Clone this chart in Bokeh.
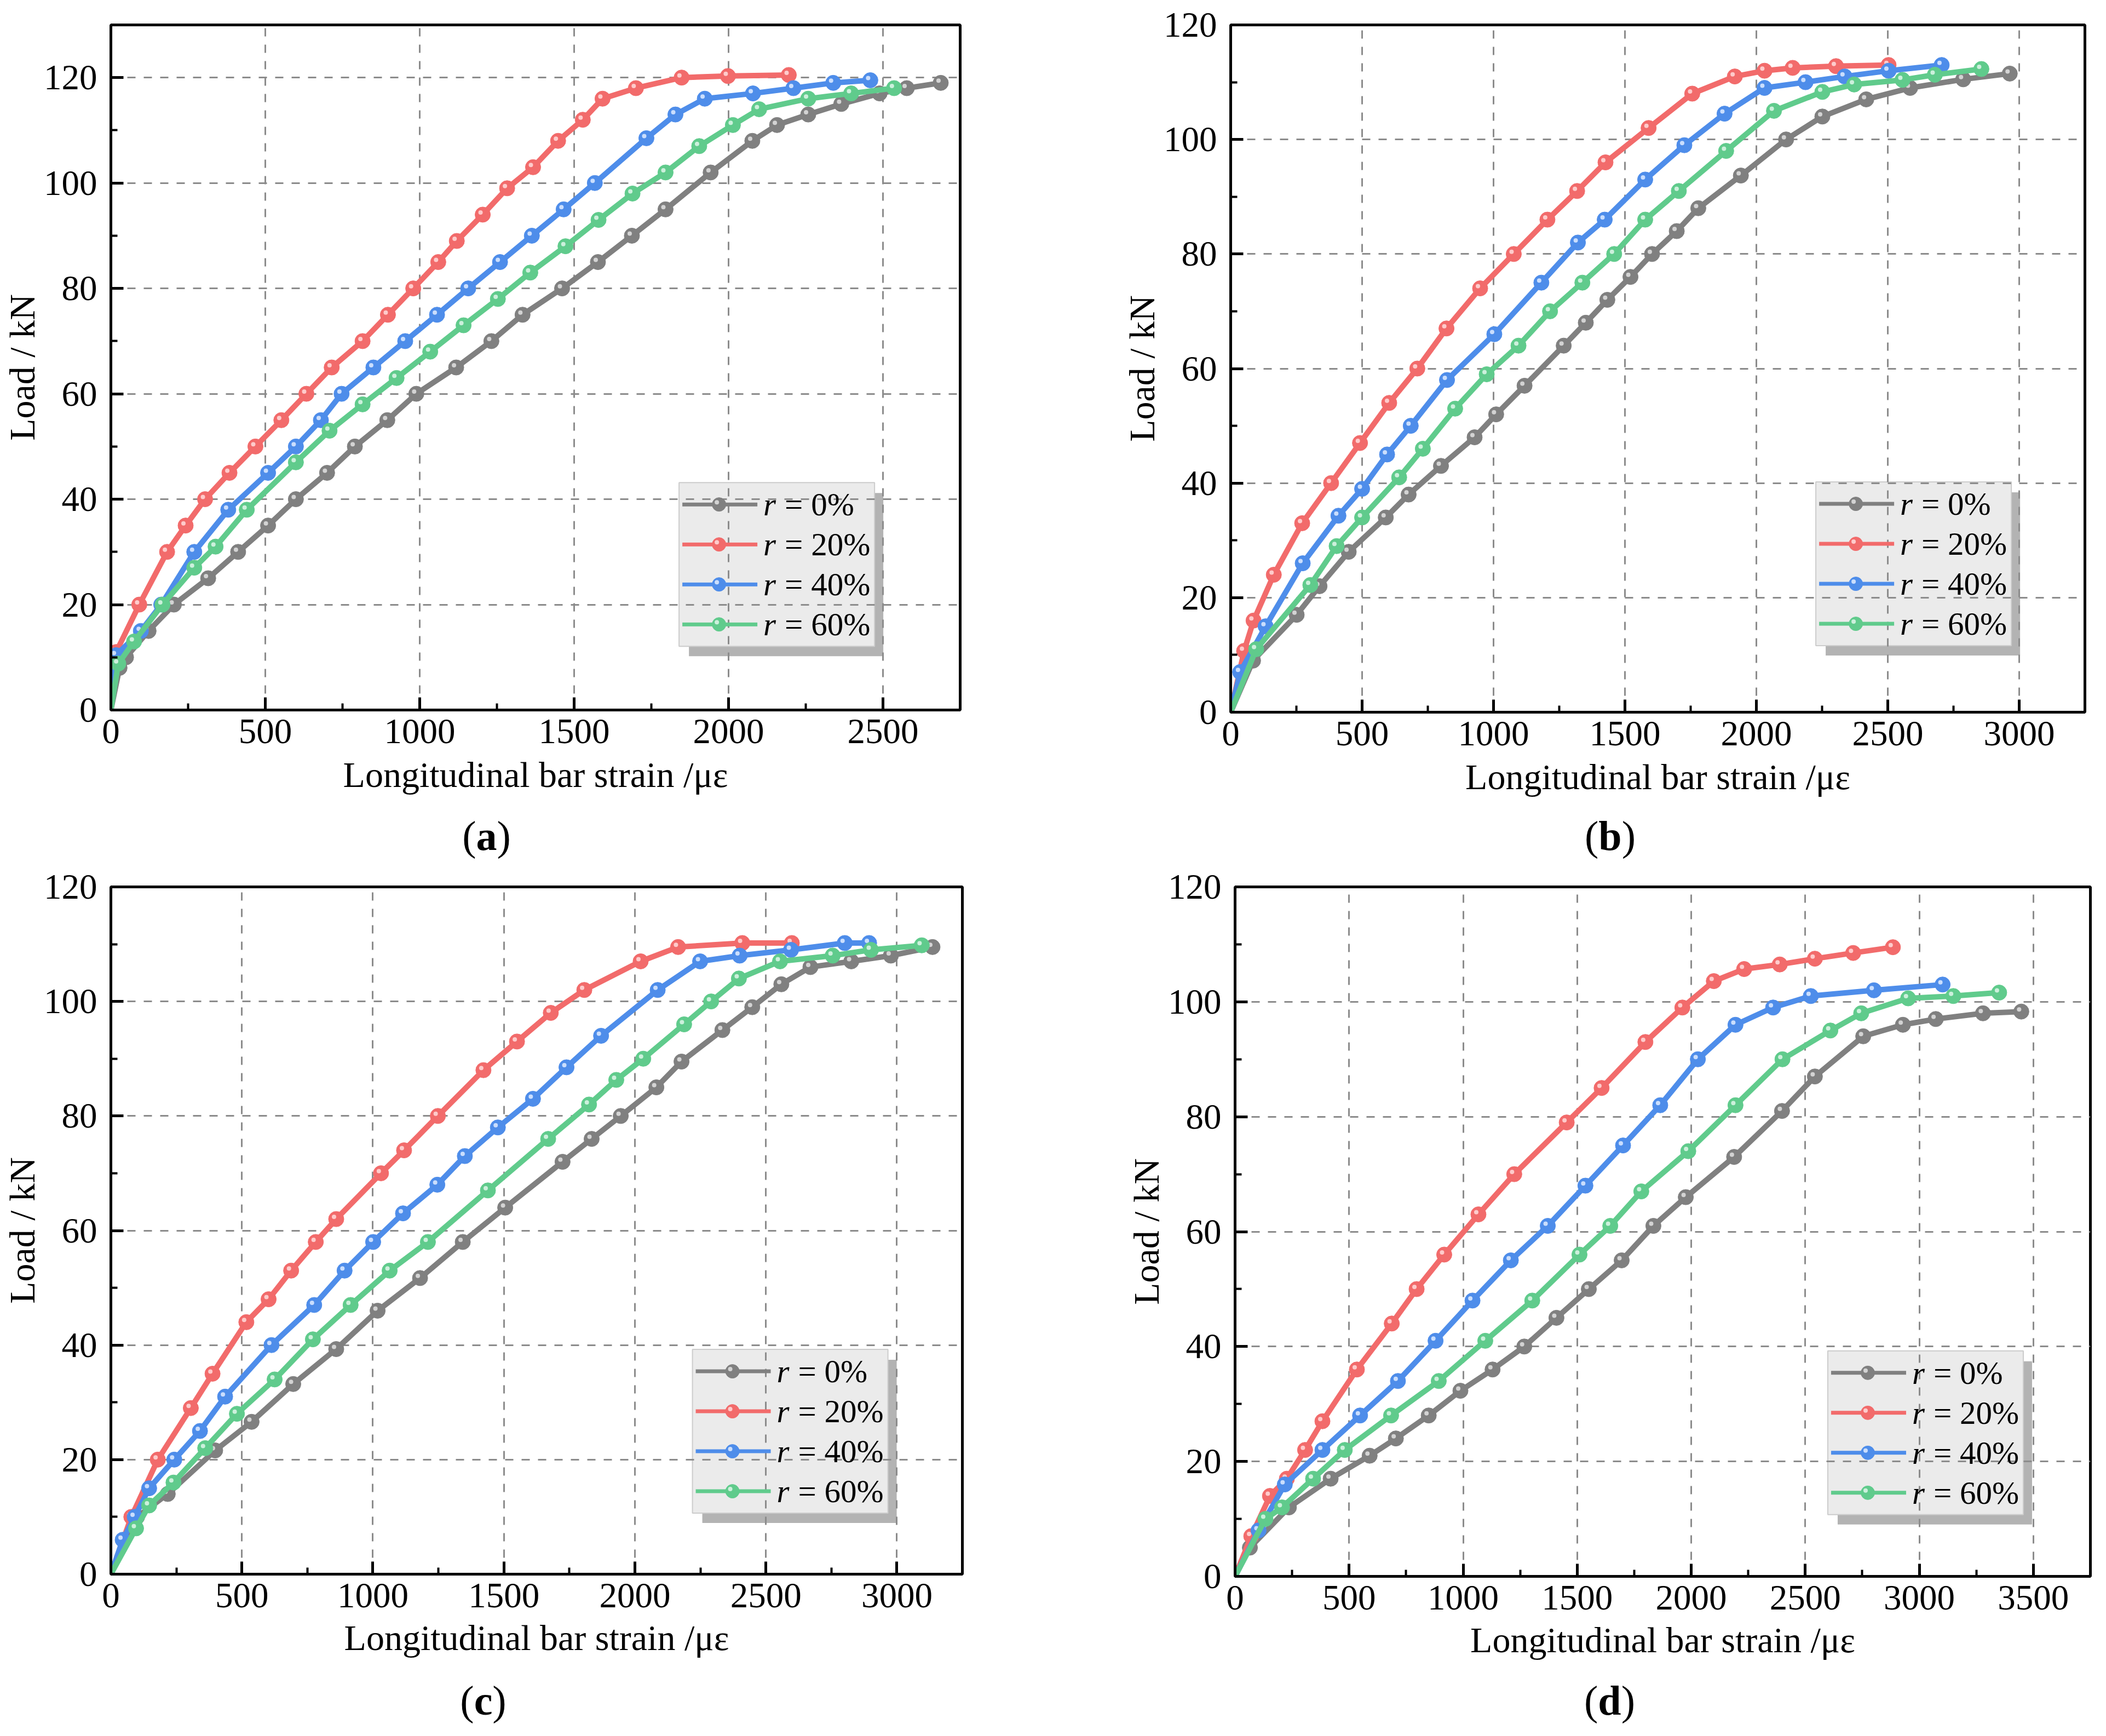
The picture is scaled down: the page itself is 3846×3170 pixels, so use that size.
from bokeh.plotting import figure
from bokeh.layouts import column, row
from bokeh.models import Range1d, SingleIntervalTicker, Label
from bokeh.embed import file_html
from bokeh.resources import INLINE
from bokeh.core.properties import value

# ---------------- data (strain in microstrain, load in kN) ----------------
SERIES = ["0%", "20%", "40%", "60%"]

# panel (a)
strain_a_0 = [0, 28, 49, 122, 204, 315, 412, 509, 599, 700, 790, 895, 989, 1118, 1232, 1333, 1461, 1577, 1687, 1796, 1942, 2077, 2157, 2258, 2365, 2489, 2577, 2687]
load_a_0 = [0, 8, 10, 15, 20, 25, 30, 35, 40, 45, 50, 55, 60, 65, 70, 75, 80, 85, 90, 95, 102, 108, 111, 113, 115, 117, 118, 119]
strain_a_20 = [0, 17, 92, 182, 242, 305, 384, 468, 552, 633, 715, 815, 897, 979, 1060, 1120, 1204, 1283, 1367, 1448, 1528, 1592, 1700, 1848, 1998, 2195]
load_a_20 = [0, 11, 20, 30, 35, 40, 45, 50, 55, 60, 65, 70, 75, 80, 85, 89, 94, 99, 103, 108, 112, 116, 118, 120, 120.3, 120.5]
strain_a_40 = [0, 17, 97, 163, 270, 380, 509, 599, 680, 747, 850, 953, 1056, 1157, 1260, 1363, 1466, 1567, 1734, 1828, 1923, 2079, 2210, 2339, 2459]
load_a_40 = [0, 10.4, 15, 20, 30, 38, 45, 50, 55, 60, 65, 70, 75, 80, 85, 90, 95, 100, 108.5, 113, 116, 117, 118, 119, 119.5]
strain_a_60 = [0, 24, 75, 167, 270, 339, 440, 599, 708, 815, 925, 1034, 1142, 1253, 1358, 1472, 1579, 1689, 1796, 1905, 2014, 2099, 2258, 2397, 2536]
load_a_60 = [0, 8.8, 13, 20, 27, 31, 38, 47, 53, 58, 63, 68, 73, 78, 83, 88, 93, 98, 102, 107, 111, 114, 116, 117, 118]

# panel (b)
strain_b_0 = [0, 85, 251, 338, 449, 590, 677, 800, 928, 1010, 1118, 1267, 1351, 1433, 1521, 1603, 1697, 1779, 1941, 2113, 2251, 2418, 2585, 2787, 2964]
load_b_0 = [0, 9, 17, 22, 28, 34, 38, 43, 48, 52, 57, 64, 68, 72, 76, 80, 84, 88, 93.7, 100, 104, 107, 109, 110.5, 111.5]
strain_b_20 = [0, 51, 87, 164, 272, 382, 492, 603, 710, 821, 949, 1077, 1205, 1318, 1426, 1590, 1756, 1918, 2031, 2138, 2303, 2503]
load_b_20 = [0, 10.7, 16, 24, 33, 40, 47, 54, 60, 67, 74, 80, 86, 91, 96, 102, 108, 111, 112, 112.5, 112.8, 113]
strain_b_40 = [0, 36, 133, 274, 410, 500, 595, 685, 823, 1003, 1182, 1321, 1423, 1577, 1726, 1879, 2031, 2187, 2336, 2503, 2705]
load_b_40 = [0, 7, 15, 26, 34.3, 39, 45, 50, 58, 66, 75, 82, 86, 93, 99, 104.5, 109, 110, 111, 112, 113]
strain_b_60 = [0, 97, 303, 403, 500, 641, 731, 854, 974, 1095, 1215, 1338, 1459, 1577, 1705, 1885, 2067, 2251, 2372, 2556, 2679, 2856]
load_b_60 = [0, 11, 22.2, 29, 34, 41, 46, 53, 59, 64, 70, 75, 80, 86, 91, 98, 105, 108.3, 109.6, 110.4, 111.3, 112.3]

# panel (c)
strain_c_0 = [0, 100, 217, 398, 537, 696, 860, 1018, 1180, 1343, 1505, 1724, 1835, 1946, 2082, 2178, 2334, 2448, 2559, 2670, 2826, 2977, 3136]
load_c_0 = [0, 10, 14, 21.6, 26.6, 33.2, 39.3, 46, 51.7, 58, 64, 72, 76, 80, 85, 89.5, 95, 99, 103, 106, 107, 108, 109.5]
strain_c_20 = [0, 78, 179, 305, 388, 517, 602, 688, 782, 860, 1031, 1119, 1248, 1422, 1550, 1679, 1807, 2022, 2165, 2410, 2599]
load_c_20 = [0, 10, 20, 29, 35, 44, 48, 53, 58, 62, 70, 74, 80, 88, 93, 98, 102, 107, 109.5, 110.2, 110.2]
strain_c_40 = [0, 45, 91, 146, 242, 340, 436, 613, 776, 892, 1001, 1115, 1246, 1351, 1477, 1611, 1739, 1871, 2087, 2249, 2400, 2596, 2801, 2894]
load_c_40 = [0, 6, 10, 15, 20, 25, 31, 40, 47, 53, 58, 63, 68, 73, 78, 83, 88.5, 94, 102, 107, 108, 109, 110.2, 110.2]
strain_c_60 = [0, 96, 146, 239, 360, 481, 625, 771, 915, 1064, 1210, 1439, 1669, 1825, 1929, 2032, 2188, 2291, 2397, 2554, 2755, 2901, 3095]
load_c_60 = [0, 8, 12, 16, 22, 28, 34, 41, 47, 53, 58, 67, 76, 82, 86.3, 90, 96, 100, 104, 107, 108, 109, 109.8]

# panel (d)
strain_d_0 = [0, 65, 236, 419, 590, 705, 849, 988, 1129, 1268, 1409, 1551, 1695, 1834, 1976, 2188, 2398, 2542, 2754, 2928, 3072, 3279, 3447]
load_d_0 = [0, 5, 12, 17, 21, 24, 28, 32.3, 36, 40, 45, 50, 55, 61, 66, 73, 81, 87, 94, 96, 97, 98, 98.3]
strain_d_20 = [0, 71, 153, 227, 307, 383, 534, 687, 796, 917, 1067, 1224, 1454, 1607, 1799, 1961, 2099, 2232, 2388, 2542, 2710, 2884]
load_d_20 = [0, 7, 14, 17, 22, 27, 36, 44, 50, 56, 63, 70, 79, 85, 93, 99, 103.6, 105.7, 106.5, 107.5, 108.5, 109.5]
strain_d_40 = [0, 103, 218, 383, 548, 714, 879, 1041, 1209, 1371, 1536, 1701, 1864, 2029, 2194, 2359, 2524, 2801, 3102]
load_d_40 = [0, 8, 16, 22, 28, 34, 41, 48, 55, 61, 68, 75, 82, 90, 96, 99, 101, 102, 103]
strain_d_60 = [0, 133, 206, 342, 481, 684, 893, 1097, 1303, 1510, 1645, 1781, 1987, 2194, 2400, 2610, 2745, 2951, 3149, 3350]
load_d_60 = [0, 10, 12, 17, 22, 28, 34, 41, 48, 56, 61, 67, 74, 82, 90, 95, 98, 100.6, 101, 101.6]

X_TITLE = "Longitudinal bar strain /με"
Y_TITLE = "Load / kN"
CAPTIONS = ["a", "b", "c", "d"]

# ---------------- style ----------------
FONT = "Liberation Serif"
COLORS = ["#808080", "#F26B6B", "#4E8DEA", "#60CB8C"]
HILITE = ["#dcdcdc", "#ffd6d6", "#d8e7ff", "#d8f4e4"]
BOLD_W = {"a": 0.5, "b": 0.556, "c": 0.444, "d": 0.556}
CAP_SIZE = 76


def make_panel(series, xmax, ymax, frame_w, frame_h, borders, leg_pos, xlabel_standoff):
    b_left, b_right, b_top, b_bottom = borders
    p = figure(frame_width=frame_w, frame_height=frame_h,
               x_range=Range1d(0, xmax), y_range=Range1d(0, ymax),
               output_backend="svg", toolbar_location=None,
               min_border_left=b_left, min_border_right=b_right,
               min_border_top=b_top, min_border_bottom=b_bottom,
               background_fill_color="white", border_fill_color="white",
               outline_line_color="black", outline_line_width=5)

    p.xaxis.ticker = SingleIntervalTicker(interval=500, num_minor_ticks=2)
    p.yaxis.ticker = SingleIntervalTicker(interval=20, num_minor_ticks=2)
    for ax in (p.xaxis, p.yaxis):
        ax.axis_line_color = "black"
        ax.axis_line_width = 5
        ax.major_tick_in = 23
        ax.major_tick_out = 0
        ax.minor_tick_in = 12
        ax.minor_tick_out = 0
        ax.major_tick_line_width = 5
        ax.minor_tick_line_width = 4
        ax.major_tick_line_color = "black"
        ax.minor_tick_line_color = "black"
        ax.major_label_text_font = FONT
        ax.major_label_text_font_size = "65px"
        ax.major_label_text_color = "black"
        ax.axis_label_text_font = FONT
        ax.axis_label_text_font_size = "66px"
        ax.axis_label_text_font_style = "normal"
        ax.axis_label_text_color = "black"
    p.xaxis.axis_label = X_TITLE
    p.yaxis.axis_label = Y_TITLE
    p.xaxis.major_label_standoff = 17
    p.xaxis.axis_label_standoff = xlabel_standoff
    p.yaxis.major_label_standoff = 25
    p.yaxis.axis_label_standoff = 0

    p.grid.grid_line_color = "#8c8c8c"
    p.grid.grid_line_width = 3
    p.grid.grid_line_dash = "15 15"

    # legend geometry (pixels relative to the frame) converted to data units
    sx = xmax / frame_w
    sy = ymax / frame_h
    lx0 = leg_pos[0] * frame_w
    ly0 = leg_pos[1] * frame_h

    def X(px):
        return px * sx

    def Y(py):
        return ymax - py * sy

    bw, bh = 357, 299
    p.quad(left=[X(lx0 + 18)], right=[X(lx0 + bw + 16)], top=[Y(ly0 + 19)], bottom=[Y(ly0 + bh + 18)],
           fill_color="#b3b3b3", line_color=None, level="underlay")
    p.quad(left=[X(lx0)], right=[X(lx0 + bw)], top=[Y(ly0)], bottom=[Y(ly0 + bh)],
           fill_color="#ebebeb", line_color="#cccccc", line_width=2, level="underlay")

    for i, (xs, ys) in enumerate(series):
        p.line(xs, ys, line_color=COLORS[i], line_width=10)
        p.scatter(xs[1:], ys[1:], size=28, fill_color=COLORS[i], line_color=COLORS[i], line_width=1)
        hx = [v - 4 * sx for v in xs[1:]]
        hy = [v + 4 * sy for v in ys[1:]]
        p.scatter(hx, hy, size=8, fill_color=HILITE[i], line_color=None, fill_alpha=0.9)

    rows_y = [Y(ly0 + 40 + 73 * i) for i in range(4)]
    for i in range(4):
        p.segment(x0=[X(lx0 + 6)], y0=[rows_y[i]], x1=[X(lx0 + 143)], y1=[rows_y[i]],
                  line_color=COLORS[i], line_width=7)
        p.scatter([X(lx0 + 73)], [rows_y[i]], size=25, fill_color=COLORS[i], line_color=COLORS[i])
        p.scatter([X(lx0 + 69)], [rows_y[i] + 4 * sy], size=8, fill_color=HILITE[i], line_color=None, fill_alpha=0.9)
    p.text(x=[X(lx0 + 154)] * 4, y=rows_y, text=["r"] * 4,
           text_font=value(FONT), text_font_size="59px", text_font_style="italic",
           text_baseline="middle", text_align="left", text_color="black")
    p.text(x=[X(lx0 + 193)] * 4, y=rows_y, text=["= " + s for s in SERIES],
           text_font=value(FONT), text_font_size="59px",
           text_baseline="middle", text_align="left", text_color="black")
    return p


def make_caption(letter, width, height, cx, cy):
    c = figure(width=width, height=height, x_range=Range1d(0, width), y_range=Range1d(0, height),
               output_backend="svg", toolbar_location=None, x_axis_location=None, y_axis_location=None,
               min_border=0, outline_line_color=None, background_fill_color="white",
               border_fill_color="white")
    c.grid.visible = False
    half = BOLD_W[letter] * CAP_SIZE / 2
    common = dict(y=cy, text_font=FONT, text_font_size=f"{CAP_SIZE}px",
                  text_color="black", text_baseline="middle")
    c.add_layout(Label(x=cx - half, text="(", text_align="right", text_font_style="normal", **common))
    c.add_layout(Label(x=cx, text=letter, text_align="center", text_font_style="bold", **common))
    c.add_layout(Label(x=cx + half, text=")", text_align="left", text_font_style="normal", **common))
    return c


pa = make_panel([(strain_a_0, load_a_0), (strain_a_20, load_a_20), (strain_a_40, load_a_40), (strain_a_60, load_a_60)],
                2750, 130, 1551, 1251, (199, 284, 34, 197), (0.669, 0.668), 18)
pb = make_panel([(strain_b_0, load_b_0), (strain_b_20, load_b_20), (strain_b_40, load_b_40), (strain_b_60, load_b_60)],
                3250, 120, 1560, 1255, (210, 20, 45, 182), (0.685, 0.665), 18)
pc = make_panel([(strain_c_0, load_c_0), (strain_c_20, load_c_20), (strain_c_40, load_c_40), (strain_c_60, load_c_60)],
                3250, 120, 1555, 1255, (189, 288, 49, 182), (0.683, 0.673), 16)
pd = make_panel([(strain_d_0, load_d_0), (strain_d_20, load_d_20), (strain_d_40, load_d_40), (strain_d_60, load_d_60)],
                3750, 120, 1562, 1259, (210, 20, 45, 182), (0.693, 0.673), 16)

ca = make_caption(CAPTIONS[0], 2034, 88, 888, 45)
cb = make_caption(CAPTIONS[1], 1790, 88, 906, 45)
cc = make_caption(CAPTIONS[2], 2032, 98, 882, 50)
cd = make_caption(CAPTIONS[3], 1792, 98, 907, 50)

layout = column(row(pa, pb), row(ca, cb), row(pc, pd), row(cc, cd))
open("out.html", "w").write(file_html(layout, INLINE))
